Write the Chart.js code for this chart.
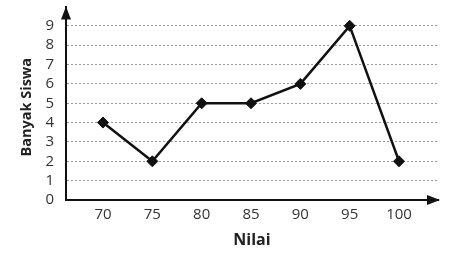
<!DOCTYPE html>
<html>
<head>
<meta charset="utf-8">
<script src="https://cdn.jsdelivr.net/npm/chart.js@4.4.0/dist/chart.umd.min.js"></script>
<style>
  html, body { margin: 0; padding: 0; background: #fff; }
  #wrap { width: 462px; height: 265px; }
</style>
</head>
<body>
<div id="wrap"><canvas id="myChart"></canvas></div>
<script>
var nilai = [70, 75, 80, 85, 90, 95, 100];
var banyakSiswa = [4, 2, 5, 5, 6, 9, 2];
var yTicks = [0, 1, 2, 3, 4, 5, 6, 7, 8, 9];
var yTitle = 'Banyak Siswa';

// arrow heads on both axes + y title (sits a bit lower than the axis centre)
var arrowPlugin = {
    id: 'arrows',
    afterDraw: function (chart) {
        var ctx = chart.ctx
        var a = chart.chartArea
        ctx.save()
        ctx.fillStyle = '#111'
        // y axis
        ctx.beginPath()
        ctx.moveTo(a.left, a.top)
        ctx.lineTo(a.left - 5, a.top + 13)
        ctx.lineTo(a.left + 5, a.top + 13)
        ctx.closePath()
        ctx.fill()
        // x axis
        ctx.beginPath()
        ctx.moveTo(a.right + 2, a.bottom)
        ctx.lineTo(a.right - 11, a.bottom - 5)
        ctx.lineTo(a.right - 11, a.bottom + 5)
        ctx.closePath()
        ctx.fill()

        ctx.translate(27, (a.top + a.bottom) / 2 + 4)
        ctx.rotate(-Math.PI / 2)
        ctx.fillStyle = '#222'
        ctx.font = 'bold 14.5px "Open Sans"'
        ctx.textAlign = 'center'
        ctx.textBaseline = 'middle'
        ctx.fillText(yTitle, 0, 0)
        ctx.restore()
    }
}

var ctx = document.getElementById('myChart').getContext('2d')
new Chart(ctx, {
    type: 'line',
    data: {
        datasets: [{
            data: nilai.map(function (v, i) { return { x: v, y: banyakSiswa[i] } }),
            borderColor: '#111',
            backgroundColor: '#111',
            borderWidth: 2.5,
            pointStyle: 'rectRot',
            pointRadius: 5.5,
            pointBorderWidth: 1,
            tension: 0,
            fill: false
        }]
    },
    options: {
        responsive: true,
        maintainAspectRatio: false,
        animation: false,
        layout: { padding: { left: 0, top: 5, right: 24, bottom: 0 } },
        plugins: {
            legend: { display: false },
            tooltip: { enabled: false }
        },
        scales: {
            x: {
                type: 'linear',
                min: 66.25,
                max: 103.95,
                afterBuildTicks: function (scale) {
                    scale.ticks = nilai.map(function (v) { return { value: v } })
                },
                afterFit: function (scale) {
                    scale.height = 65
                    scale.paddingLeft = 0
                    scale.paddingRight = 0
                },
                grid: { display: false, drawTicks: false },
                border: { display: true, color: '#111', width: 2 },
                ticks: {
                    padding: 6,
                    color: '#333',
                    font: { family: 'Open Sans', size: 15 }
                },
                title: {
                    display: true,
                    text: 'Nilai',
                    color: '#222',
                    padding: { top: 0, bottom: 15 },
                    font: { family: 'Open Sans', size: 16, weight: 'bold' }
                }
            },
            y: {
                min: 0,
                max: 10,
                afterBuildTicks: function (scale) {
                    scale.ticks = yTicks.map(function (v) { return { value: v } })
                },
                afterFit: function (scale) {
                    scale.width = 66
                    scale.paddingTop = 0
                    scale.paddingBottom = 0
                },
                grid: {
                    drawTicks: false,
                    color: '#999',
                    lineWidth: 1
                },
                border: { display: true, color: '#111', width: 2, dash: [2, 2] },
                ticks: {
                    padding: 12,
                    color: '#333',
                    font: { family: 'Open Sans', size: 15 }
                }
            }
        }
    },
    plugins: [arrowPlugin]
})
</script>
</body>
</html>
